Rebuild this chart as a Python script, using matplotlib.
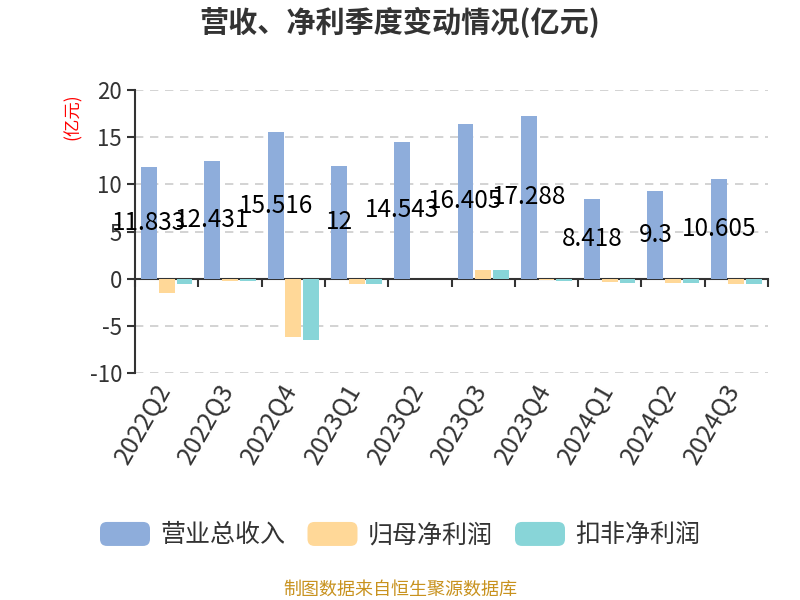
import numpy as np
import matplotlib.pyplot as plt
from matplotlib.patches import Patch, FancyBboxPatch
from matplotlib.legend_handler import HandlerPatch

plt.rcParams['font.family'] = ['Noto Sans CJK SC', 'DejaVu Sans']
plt.rcParams['axes.unicode_minus'] = False

quarters = ['2022Q2', '2022Q3', '2022Q4', '2023Q1', '2023Q2',
            '2023Q3', '2023Q4', '2024Q1', '2024Q2', '2024Q3']
revenue = [11.833, 12.431, 15.516, 12, 14.543, 16.405, 17.288, 8.418, 9.3, 10.605]
net_profit = [-1.5, -0.2, -6.2, -0.5, -0.05, 0.95, -0.15, -0.35, -0.4, -0.5]
net_profit_deducted = [-0.6, -0.2, -6.5, -0.5, -0.05, 0.95, -0.25, -0.4, -0.45, -0.6]

c_rev = '#8eaddb'
c_np = '#ffd898'
c_npd = '#88d5d8'


class RoundHandler(HandlerPatch):
    def create_artists(self, legend, orig_handle, xdescent, ydescent,
                       width, height, fontsize, trans):
        p = FancyBboxPatch((-xdescent, -ydescent), width, height,
                           boxstyle='round,pad=0,rounding_size=5',
                           facecolor=orig_handle.get_facecolor(),
                           edgecolor='none', transform=trans)
        return [p]


fig = plt.figure(figsize=(8, 6), dpi=100)
ax = fig.add_axes([0.169, 0.378, 0.791, 0.472])

x = np.arange(len(quarters))
w = 0.25
ax.bar(x - 0.28, revenue, w, color=c_rev, zorder=3)
ax.bar(x, net_profit, w, color=c_np, zorder=3)
ax.bar(x + 0.28, net_profit_deducted, w, color=c_npd, zorder=3)

for xi, v in zip(x, revenue):
    ax.text(xi - 0.28, v / 2, f'{v:g}', ha='center', va='center',
            fontsize=17.5, color='black', zorder=4)

ax.set_xlim(-0.5, len(quarters) - 0.5)
ax.set_ylim(-10, 20)
ax.set_yticks([-10, -5, 0, 5, 10, 15, 20])
ax.grid(axis='y', linestyle=(0, (5, 4)), color='#cccccc', linewidth=1.2, zorder=0)

ax.spines['top'].set_visible(False)
ax.spines['right'].set_visible(False)
ax.spines['bottom'].set_position(('data', 0))
ax.spines['bottom'].set_color('#333333')
ax.spines['left'].set_color('#333333')
ax.spines['bottom'].set_linewidth(1.5)
ax.spines['left'].set_linewidth(1.5)

# ticks at category boundaries, labels at centers
ax.set_xticks(np.arange(len(quarters) + 1) - 0.5)
ax.set_xticklabels([])
ax.tick_params(axis='x', length=6, width=1.5, color='#333333', direction='out')
ax.tick_params(axis='y', length=6, width=1.5, color='#333333', labelsize=16,
               labelcolor='#333333')
for xi, q in zip(x, quarters):
    ax.text(xi - 0.2, -10.6, q, rotation=60, ha='right', va='top',
            fontsize=18, color='#333333', rotation_mode='anchor')

fig.text(0.5, 0.962, '营收、净利季度变动情况(亿元)', ha='center', va='center',
         fontsize=21, fontweight='bold', color='#333333')
fig.text(0.091, 0.805, '(亿元)', rotation=90, ha='center', va='center',
         fontsize=12.5, color='red')

handles = [Patch(facecolor=c_rev, label='营业总收入'),
           Patch(facecolor=c_np, label='归母净利润'),
           Patch(facecolor=c_npd, label='扣非净利润')]
fig.legend(handles=handles, loc='center', bbox_to_anchor=(0.5, 0.108), ncol=3,
           frameon=False, fontsize=18, handlelength=2.0, handleheight=1.1,
           columnspacing=0.9, handletextpad=0.4, labelcolor='#333333',
           handler_map={Patch: RoundHandler()})

fig.text(0.5, 0.018, '制图数据来自恒生聚源数据库', ha='center', va='center',
         fontsize=13, color='#c8921e')

fig.savefig('out.png', dpi=100)
